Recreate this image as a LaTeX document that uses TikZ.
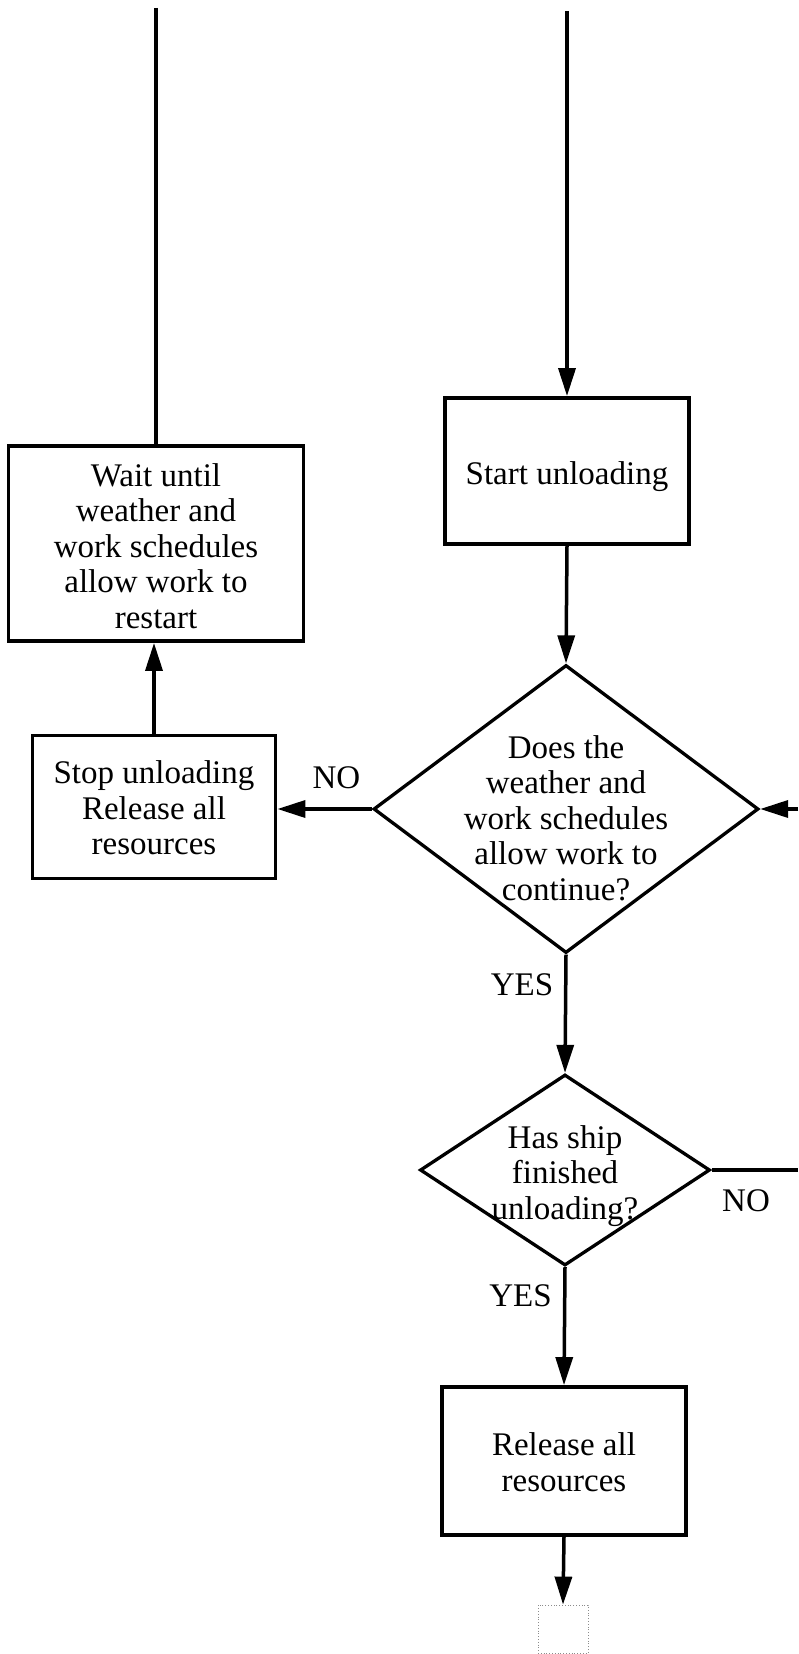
\documentclass[tikz,border=0pt]{standalone}
\usepackage{fontspec}
\setmainfont{Liberation Serif}
\usetikzlibrary{shapes.geometric,arrows.meta}
\begin{document}
\begin{tikzpicture}[x=1pt,y=-1pt,
  every node/.style={font=\fontsize{33}{35.5}\selectfont},
  box/.style={draw=black, line width=3.8pt, rectangle, inner sep=0pt, align=center},
  diam/.style={draw=black, line width=3.3pt, diamond, inner sep=0pt},
  txt/.style={align=center, inner sep=0pt},
  lbl/.style={anchor=base, inner sep=0pt},
  conn/.style={line width=3.5pt},
  arr/.style={conn, -{Triangle[length=28pt,width=17pt]}},
  endbox/.style={draw=black!45, line width=0.8pt, dotted, rectangle, inner sep=0pt}
]
\useasboundingbox (0,0) rectangle (798,1654);

% nodes
\node[box, minimum width=295pt, minimum height=195pt] (wait) at (156,543.5) {};
\node[txt] (waitt) at (156,546)
  {Wait until\\weather and\\work schedules\\allow work to\\restart};
\node[box, minimum width=243pt, minimum height=143pt] (stop) at (154,807) {};
\node[txt] (stopt) at (154,808) {Stop unloading\\Release all\\resources};
\node[box, minimum width=244pt, minimum height=146pt] (start) at (567,471) {};
\node[txt] (startt) at (567,477) {Start unloading};
\node[diam, minimum width=385pt, minimum height=288pt] (d1) at (566,809) {};
\node[txt] (d1t) at (566,818)
  {Does the\\weather and\\work schedules\\allow work to\\continue?};
\node[diam, minimum width=290pt, minimum height=191pt] (d2) at (565,1170) {};
\node[txt] (d2t) at (565,1176) {Has ship\\finished\\unloading?};
\node[box, minimum width=244pt, minimum height=148pt] (rel) at (564,1461) {};
\node[txt] (relt) at (564,1462) {Release all\\resources};
\node[endbox, minimum width=50pt, minimum height=48pt] (endb) at (563,1629) {};

% labels
\node[lbl] (no1) at (336.5,788) {NO};
\node[lbl] (yes1) at (522,995) {YES};
\node[lbl] (yes2) at (520.5,1306) {YES};
\node[lbl] (no2) at (746,1211) {NO};

% free ends
\coordinate (topL) at (156,8);
\coordinate (topR) at (567,11);
\coordinate (inR) at (798,809);
\coordinate (outR) at (798,1170);

% connectors
\draw[conn] (topL) -- (wait.north);
\draw[arr] (topR) -- (start.north);
\draw[arr] (start.south) -- (d1.north);
\draw[arr] (d1.south) -- (d2.north);
\draw[arr] (d2.south) -- (rel.north);
\draw[arr] (rel.south) -- (endb.north);
\draw[arr] (d1.west) -- (stop.east |- d1.west);
\draw[arr] (stop.north) -- (stop.north |- wait.south);
\draw[arr] (inR) -- (d1.east);
\draw[conn] (d2.east) -- (outR);
\end{tikzpicture}
\end{document}
